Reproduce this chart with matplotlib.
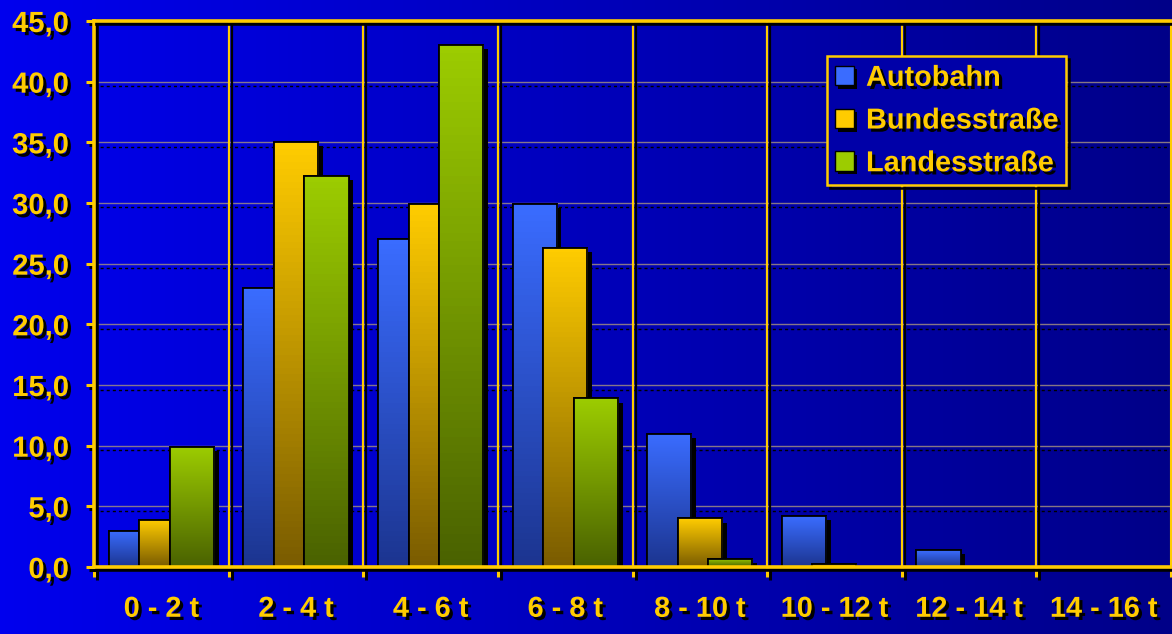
import numpy as np
import matplotlib
matplotlib.use("Agg")
import matplotlib.pyplot as plt
import matplotlib.patheffects as pe
import matplotlib.transforms as mtransforms
from matplotlib.colors import LinearSegmentedColormap
from matplotlib.patches import Rectangle

plt.rcParams["font.family"] = ["Liberation Sans", "DejaVu Sans"]
plt.rcParams["font.weight"] = "bold"

# ── data ──────────────────────────────────────────────────────────────────────
categories   = ["0 - 2 t", "2 - 4 t", "4 - 6 t", "6 - 8 t",
                "8 - 10 t", "10 - 12 t", "12 - 14 t", "14 - 16 t"]
series_names = ["Autobahn", "Bundesstraße", "Landesstraße"]
autobahn     = [3.0, 23.0, 27.0, 29.9, 11.0, 4.2, 1.4, 0.0]
bundes       = [3.9, 35.0, 29.9, 26.3, 4.0, 0.25, 0.0, 0.0]
landes       = [9.9, 32.2, 43.0, 13.9, 0.7, 0.0, 0.0, 0.0]
y_ticks      = [0, 5, 10, 15, 20, 25, 30, 35, 40, 45]

# ── styling ───────────────────────────────────────────────────────────────────
YELLOW = "#ffcc00"
GRADS = [("#3a6cff", "#1c3590"),   # blue
         ("#ffcc00", "#7a5c00"),   # yellow
         ("#9ccc00", "#4a6200")]   # green
BAR_W  = 0.327
STEP   = 0.227
FS     = 20.8

text_shadow = [pe.withSimplePatchShadow(offset=(2.3, -2.3), shadow_rgbFace="black", alpha=1.0)]
line_shadow = [pe.SimpleLineShadow(offset=(2.2, -2.2), shadow_color="black", alpha=1.0), pe.Normal()]

fig = plt.figure(figsize=(11.72, 6.34), dpi=100)

# background gradient over the whole figure
bg = fig.add_axes([0, 0, 1, 1], zorder=-10)
bg.imshow(np.linspace(0, 1, 256)[None, :], aspect="auto", extent=[0, 1, 0, 1],
          cmap=LinearSegmentedColormap.from_list("bg", ["#0000ee", "#000088"]))
bg.set_axis_off()

ax = fig.add_axes([94 / 1172, 1 - 567 / 634, (1171 - 94) / 1172, (567 - 21) / 634])
ax.set_facecolor("none")

x = np.arange(len(categories))

# horizontal grid: muted tan line with a dashed black shadow below
ytrans = ax.get_yaxis_transform()
ytrans_sh = mtransforms.offset_copy(ytrans, fig=fig, x=0, y=-4.5, units="dots")
for v in y_ticks[1:-1]:
    ax.plot([0, 1], [v, v], transform=ytrans, color="#a08c80", lw=1.0, alpha=0.85, zorder=1)
    ax.plot([0, 1], [v, v], transform=ytrans_sh, color="black", lw=1.0,
            dashes=(2.2, 2.2), zorder=1)

# vertical grid at category boundaries
for b in np.arange(0.5, len(categories) - 0.5, 1.0):
    ax.axvline(b, color=YELLOW, lw=1.6, zorder=1, path_effects=line_shadow)

# ── bars with vertical gradient + drop shadow ─────────────────────────────────
bar_shadow = [pe.SimplePatchShadow(offset=(3.5, -3), shadow_rgbFace="black", alpha=1.0),
              pe.Normal()]
grad = np.linspace(0, 1, 64)[:, None]
for i, vals in enumerate([autobahn, bundes, landes]):
    z = 3 + i * 3
    top, bottom = GRADS[i]
    cmap = LinearSegmentedColormap.from_list(f"g{i}", [bottom, top])
    bars = ax.bar(x + (i - 1) * STEP, vals, BAR_W, color=top, edgecolor="black",
                  lw=1.3, zorder=z, path_effects=bar_shadow)
    for rect, v in zip(bars, vals):
        if v <= 0:
            rect.set_visible(False)
            continue
        x0 = rect.get_x()
        im = ax.imshow(grad, cmap=cmap, aspect="auto", origin="lower",
                       extent=[x0, x0 + BAR_W, 0, v], zorder=z + 0.5)
        im.set_clip_path(rect)
        ax.add_patch(Rectangle((x0, 0), BAR_W, v, fill=False, edgecolor="black",
                               lw=1.3, zorder=z + 0.6))

ax.set_xlim(-0.5, len(categories) - 0.5)
ax.set_ylim(0, 45)

# ── axes, ticks, labels ───────────────────────────────────────────────────────
for side in ["left", "bottom", "top"]:
    ax.spines[side].set_color(YELLOW)
    ax.spines[side].set_linewidth(2.6)
    ax.spines[side].set_path_effects(line_shadow)
    ax.spines[side].set_zorder(20)
ax.spines["right"].set_color(YELLOW)
ax.spines["right"].set_linewidth(1.5)

ax.set_yticks(y_ticks)
ax.set_yticklabels([f"{v:.1f}".replace(".", ",") for v in y_ticks])
ax.tick_params(axis="y", direction="out", length=6, width=2.2, color=YELLOW,
               labelcolor=YELLOW, labelsize=21, pad=12)

ax.set_xticks(np.arange(-0.5, len(categories), 1.0))
ax.set_xticklabels([])
ax.set_xticks(x, minor=True)
ax.set_xticklabels(categories, minor=True)
ax.tick_params(axis="x", which="major", direction="out", length=7, width=2.2,
               color=YELLOW)
ax.tick_params(axis="x", which="minor", length=0, labelcolor=YELLOW,
               labelsize=FS, pad=20)

for t in ax.get_yticklabels() + ax.get_xticklabels(minor=True):
    t.set_path_effects(text_shadow)
for tl in ax.yaxis.get_ticklines() + ax.xaxis.get_ticklines():
    tl.set_path_effects(line_shadow)

# ── legend ────────────────────────────────────────────────────────────────────
handles = [Rectangle((0, 0), 1, 1, facecolor=GRADS[i][0], edgecolor="black", lw=1.0)
           for i in range(3)]
leg = ax.legend(handles, series_names, loc="upper left",
                bbox_to_anchor=(827 / 1172, 1 - 56 / 634),
                bbox_transform=fig.transFigure, borderaxespad=0,
                fontsize=FS, frameon=True, fancybox=False,
                facecolor="#0000a8", edgecolor=YELLOW, framealpha=1,
                borderpad=0.27, labelspacing=0.51, handlelength=0.66,
                handleheight=0.66, handletextpad=0.42)
leg.set_zorder(30)
leg.get_frame().set_linewidth(1.8)
leg.get_frame().set_path_effects(line_shadow)
for t in leg.get_texts():
    t.set_color(YELLOW)
    t.set_path_effects(text_shadow)
for h in leg.legend_handles:
    h.set_path_effects([pe.SimplePatchShadow(offset=(2.5, -2.5), shadow_rgbFace="black",
                                             alpha=1.0), pe.Normal()])

fig.savefig("out.png", dpi=100)
